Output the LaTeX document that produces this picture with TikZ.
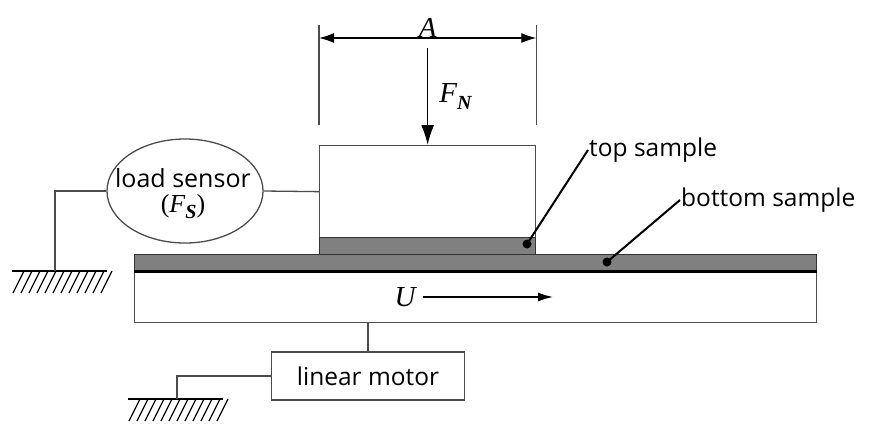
\documentclass[tikz,border=0pt]{standalone}
\usepackage{fontspec}
\setmainfont{Open Sans}
\newfontfamily\symfont{Liberation Serif}
\usetikzlibrary{calc}
\usetikzlibrary{arrows.meta}
\usetikzlibrary{shapes.geometric}

\tikzset{
  part/.style={draw=black!70, line width=1.3pt, inner sep=0pt},
  sample/.style={part, fill=black!50, draw=black!80},
  wire/.style={draw=black!70, line width=1.3pt},
  leader/.style={draw=black, line width=2pt},
  lbl/.style={font=\fontsize{24.5}{28}\selectfont, inner sep=1pt},
  mathlbl/.style={font=\fontsize{29}{30}\selectfont\symfont\itshape, inner sep=1pt},
}
% italic quantity with subscript
\newcommand{\qsub}[2]{#1\raisebox{-6pt}{\fontsize{20}{20}\selectfont\bfseries #2}}
% ground symbol, #1 = top left corner
\newcommand{\groundhatch}[1]{%
  \begin{scope}[shift={(#1)}]
    \draw[line width=1.4pt] (0,0) -- (95,0);
    \foreach \k in {0,...,11}
      \draw[line width=1.2pt] (\k*8+12,0) -- ++(-11,22);
  \end{scope}
}

\begin{document}
\begin{tikzpicture}[x=1pt, y=-1pt]
    \useasboundingbox (0,0) rectangle (870,424);
    % sliding parts
    \node [part, anchor=north west, minimum width=216pt, minimum height=92pt] (block) at (319,145) {};
    \node [sample, anchor=north west, minimum width=216pt, minimum height=17pt] (topsample) at (319,237) {};
    \node [part, anchor=north west, minimum width=682pt, minimum height=52pt] (base) at (134,270) {};
    \node [sample, anchor=north west, minimum width=682pt, minimum height=16pt] (botsample) at (134,254) {};
    \draw [line width=2.6pt] (botsample.south west) -- (botsample.south east);
    % sensor and motor
    \node [part, ellipse, minimum width=156pt, minimum height=104pt] (sensor) at (185,191) {};
    \node [lbl, font=\fontsize{25}{28}\selectfont, align=center] (sensortxt) at (183,194) {load sensor\\[-3pt]{\fontsize{26}{26}\selectfont\symfont(\itshape\qsub{F}{S}\upshape)}};
    \node [part, minimum width=193pt, minimum height=48pt, lbl] (motor) at (368,376) {linear motor};
    \coordinate (gnd1) at (55,271);
    \coordinate (gnd2) at (177,399);
    \groundhatch{12,271}
    \groundhatch{128,399}
    \draw [wire] (sensor.east) -- (block.west);
    \draw [wire] (sensor.west) -| (gnd1);
    \draw [wire] (motor.north) -- (motor.north |- base.south);
    \draw [wire] (motor.west) -| (gnd2);
    % dimension A and load
    \coordinate (dimL) at ($(block.north west)+(0,-107)$);
    \coordinate (dimR) at ($(block.north east)+(0,-107)$);
    \draw [wire] ($(block.north west)+(0,-20)$) -- ($(block.north west)+(0,-120)$);
    \draw [wire] ($(block.north east)+(0,-20)$) -- ($(block.north east)+(0,-120)$);
    \draw [line width=1.3pt, {Latex[length=15pt,width=10pt]}-{Latex[length=15pt,width=10pt]}] (dimL) -- (dimR) node [midway, above=-1pt, mathlbl] {A};
    \coordinate (loadtop) at ($(block.north)+(0,-97)$);
    \draw [line width=1.5pt, -{Latex[length=20pt,width=13pt]}] (loadtop) -- (block.north) node [midway, right=10pt, mathlbl] {\qsub{F}{N}};
    % velocity
    \node [mathlbl] (vel) at (405,297) {U};
    \coordinate (velend) at (553,297);
    \draw [line width=1.3pt, -{Latex[length=15pt,width=9pt]}] (vel.east) ++(6,0) -- (velend);
    % labels
    \node [lbl, anchor=west] (toplbl) at (588,150) {top sample};
    \node [lbl, anchor=west] (botlbl) at (680,200) {bottom sample};
    \coordinate (topdot) at (527,244);
    \coordinate (botdot) at (607,262);
    \fill (topdot) circle (4.5pt);
    \fill (botdot) circle (4.5pt);
    \draw [leader] (topdot) -- (toplbl.west);
    \draw [leader] (botdot) -- (botlbl.west);
\end{tikzpicture}
\end{document}
